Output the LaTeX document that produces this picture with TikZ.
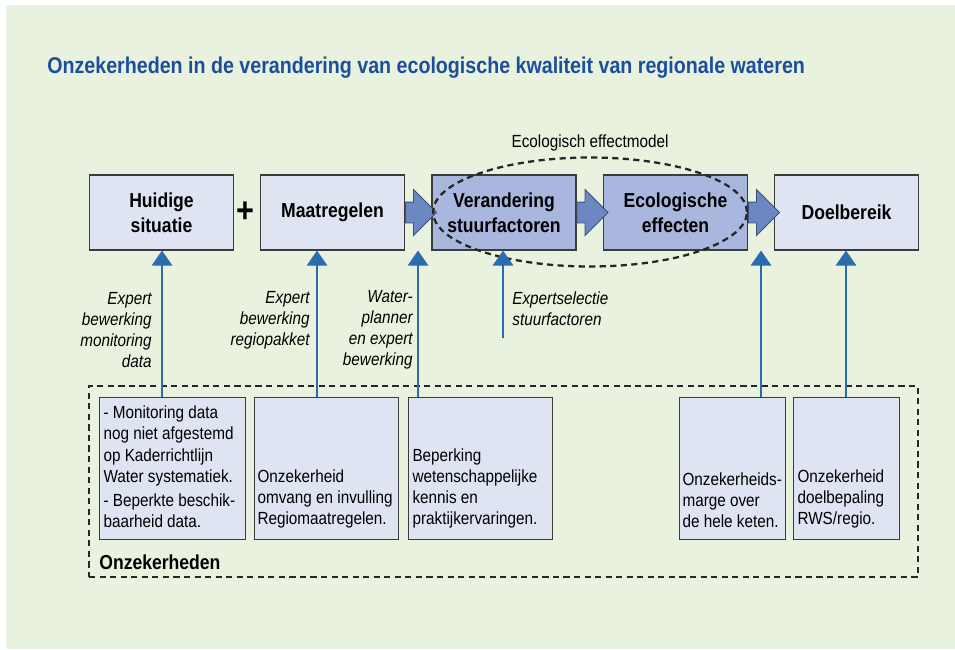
\documentclass[tikz,border=0pt]{standalone}
\usepackage{fontspec}
\setmainfont{Liberation Sans}[FakeStretch=0.87]
\newfontfamily\titlefont{Liberation Sans}[FakeStretch=0.86]
\usetikzlibrary{shapes.geometric, shapes.arrows, arrows.meta}
\definecolor{bggreen}{HTML}{E9F2DE}
\definecolor{boxlight}{HTML}{DFE4F3}
\definecolor{boxdark}{HTML}{A9B6DE}
\definecolor{boxedge}{HTML}{3C3C3C}
\definecolor{arrowblue}{HTML}{6D87C2}
\definecolor{arrowedge}{HTML}{3E4E7A}
\definecolor{lineblue}{HTML}{2B6CB0}
\definecolor{titleblue}{HTML}{1C4E9C}

% tekst onderaan in de onzekerheidsboxen
\newcommand{\onztekst}[2]{\parbox[b][2.64cm][b]{#1}{\raggedright #2\par\vspace{0.13cm}}}

\begin{document}
\begin{tikzpicture}[x=0.02cm, y=-0.02cm, >={Triangle[length=0.3cm, width=0.4cm]}]

        % --- Stijlen ---
        \tikzset{
            kaderbox/.style={draw=boxedge, line width=0.6pt, fill=boxlight, minimum width=2.88cm, minimum height=1.5cm, align=center, font=\fontsize{11.5}{14}\selectfont\bfseries},
            modelbox/.style={kaderbox, fill=boxdark},
            fatarrow/.style={single arrow, draw=arrowedge, fill=arrowblue, line width=0.5pt, inner xsep=0pt, inner ysep=0.2cm, single arrow head extend=0.25cm, minimum height=0.62cm, anchor=tail},
            uparrow/.style={->, draw=lineblue, fill=lineblue, line width=1.6pt},
            bronlabel/.style={font=\fontsize{10}{12}\selectfont\itshape, align=right, inner sep=0pt, anchor=east},
            onzbox/.style={draw=boxedge, line width=0.6pt, fill=boxlight, inner xsep=0.08cm, inner ysep=0.1cm, minimum height=2.84cm, font=\fontsize{10}{12}\selectfont, anchor=north west},
            dashline/.style={line width=1.3pt, dash pattern=on 3.5pt off 2.5pt, draw=black!85}
        }

        % --- Achtergrond ---
        \useasboundingbox (0,0) rectangle (955,649);
        \fill[white] (0,0) rectangle (955,649);
        \fill[bggreen] (6,5) rectangle (955,649);

        % --- Titel ---
        \node[anchor=west, inner sep=0pt, text=titleblue, font=\titlefont\fontsize{13}{15}\selectfont\bfseries] (titel) at (47,68)
            {Onzekerheden in de verandering van ecologische kwaliteit van regionale wateren};

        % --- Keten bovenaan ---
        \node[kaderbox] (huidig) at (161.5,212.5) {Huidige\\situatie};
        \node[font=\fontsize{20}{20}\selectfont\bfseries, inner sep=0pt] (plus) at (245,212) {+};
        \node[kaderbox] (maatr) at (332.5,212.5) {Maatregelen};
        \node[modelbox] (verand) at (504,212.5) {Verandering\\stuurfactoren};
        \node[modelbox] (ecoeff) at (675.5,212.5) {Ecologische\\effecten};
        \node[kaderbox] (doel) at (846.5,212.5) {Doelbereik};

        \node[fatarrow] (pijl1) at (maatr.east) {};
        \node[fatarrow] (pijl2) at (verand.east) {};
        \node[fatarrow] (pijl3) at (ecoeff.east) {};

        % --- Ecologisch effectmodel ---
        \node[ellipse, draw, dashline, minimum width=6.28cm, minimum height=2.18cm, inner sep=0pt] (effmodel) at (590,212) {};
        \node[font=\fontsize{10}{12}\selectfont] (efflabel) at (590,143) {Ecologisch effectmodel};

        % --- Onzekerheden onderaan ---
        \node[draw, dashline, minimum width=16.58cm, minimum height=3.82cm, inner sep=0pt] (onzframe) at (503.5,481.5) {};
        \node[font=\fontsize{11.5}{14}\selectfont\bfseries, anchor=west, inner sep=0pt] (onzlabel) at (99,562) {Onzekerheden};

        \node[onzbox, minimum width=2.92cm] (onz1) at (99,397) {\onztekst{2.76cm}{%
            - Monitoring data\\ nog niet afgestemd\\ op Kaderrichtlijn\\ Water systematiek.\\[2pt]
            - Beperkte beschik-\\ baarheid data.}};
        \node[onzbox, minimum width=2.88cm, inner xsep=0.06cm] (onz2) at (254,397) {\onztekst{2.76cm}{%
            Onzekerheid\\ omvang en invulling\\ Regiomaatregelen.}};
        \node[onzbox, minimum width=2.88cm] (onz3) at (408,397) {\onztekst{2.72cm}{%
            Beperking\\ wetenschappelijke\\ kennis en\\ praktijkervaringen.}};
        \node[onzbox, minimum width=2.12cm, inner xsep=0.06cm] (onz4) at (679,397) {\onztekst{2.0cm}{%
            Onzekerheids-\\ marge over\\ de hele keten.}};
        \node[onzbox, minimum width=2.12cm] (onz5) at (793,397) {\onztekst{1.96cm}{%
            Onzekerheid\\ doelbepaling\\ RWS/regio.}};

        % --- Bronnen van onzekerheid (pijlen omhoog) ---
        \coordinate (x1) at (162,0);
        \coordinate (x2) at (317,0);
        \coordinate (x3) at (418,0);
        \coordinate (x4) at (503,338);
        \coordinate (x5) at (761,0);
        \coordinate (x6) at (846,0);

        \draw[uparrow] (onz1.north -| x1) -- (huidig.south -| x1);
        \draw[uparrow] (onz2.north -| x2) -- (maatr.south -| x2);
        \draw[uparrow] (onz3.north -| x3) -- (maatr.south -| x3);
        \draw[uparrow] (x4) -- (verand.south -| x4);
        \draw[uparrow] (onz4.north -| x5) -- (doel.south -| x5);
        \draw[uparrow] (onz5.north -| x6) -- (doel.south -| x6);

        \node[bronlabel] (bron1) at (152,330) {Expert\\bewerking\\monitoring\\data};
        \node[bronlabel] (bron2) at (310,320) {Expert\\bewerking\\regiopakket};
        \node[bronlabel] (bron3) at (413,330) {Water-\\planner\\en expert\\bewerking};
        \node[bronlabel, anchor=west, align=left] (bron4) at (512,309) {Expertselectie\\stuurfactoren};

\end{tikzpicture}
\end{document}
